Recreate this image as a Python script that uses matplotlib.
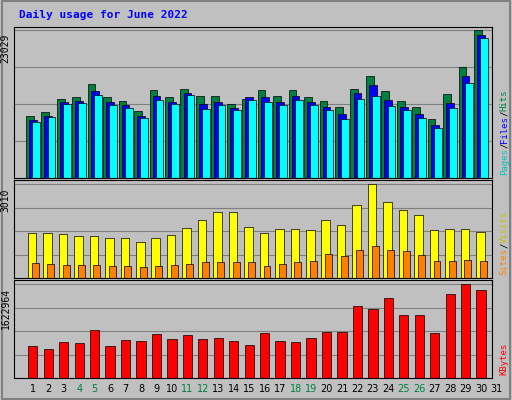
import matplotlib
matplotlib.use("Agg")
import matplotlib.pyplot as plt
from matplotlib.patches import Rectangle

days = list(range(1, 31))
day_labels = [str(d) for d in range(1, 32)]
weekend_days = [4, 5, 11, 12, 18, 19, 25, 26]
hits = [9620,10250,12300,12620,14670,12620,11990,10410,13720,12620,13880,12770,12770,11510,12300,
        13720,12770,13720,12620,11990,11040,13880,15930,13560,11990,11040,9150,13090,17350,23029]
files = [9000,9700,11800,12000,13500,11800,11300,9700,12700,11900,13300,11500,11800,10900,12600,
         12600,11800,12800,11800,11100,9900,13300,14400,12100,11000,10000,8200,11600,15800,22300]
pages = [8670,9460,11510,11670,12930,11350,10880,9300,12140,11510,12930,10720,11350,10570,12140,
         11830,11350,12140,11350,10570,9150,12300,12770,11200,10570,9300,7730,10880,14820,21760]
visits = [1440,1440,1406,1341,1341,1275,1275,1145,1275,1373,1602,1864,2126,2126,1635,
          1440,1570,1570,1537,1864,1700,2355,3010,2420,2191,2027,1537,1570,1570,1472]
sites = [490,458,425,425,425,392,392,360,392,425,458,523,523,523,523,
         392,458,523,556,785,719,883,1014,883,850,752,556,556,589,556]
kbytes = [547,494,617,600,829,547,653,635,759,670,741,670,688,635,565,
          776,635,617,688,794,794,1252,1200,1376,1094,1094,776,1447,1623,1517]
kbytes = [k * 1000 for k in kbytes]
kbytes_max = 1622964

BG = "#C0C0C0"
fig = plt.figure(figsize=(5.12, 4.0), dpi=100, facecolor=BG)
fig.patches.append(Rectangle((0.003, 0.003), 0.994, 0.994, transform=fig.transFigure,
                             fill=False, edgecolor="#808080", lw=1.5))
fig.text(0.037, 0.962, "Daily usage for June 2022", color="#0000FF", fontsize=8,
         fontweight="bold", family="DejaVu Sans Mono", va="center")

left, width = 0.027, 0.934
xl = (0.77 - 1, 30.71)

def setup(ax, ymax, maxval, label):
    ax.set_facecolor(BG)
    ax.set_xlim(*xl)
    ax.set_ylim(0, ymax)
    ax.set_xticks([]); ax.set_yticks([])
    for s in ax.spines.values():
        s.set_color("#000000"); s.set_linewidth(0.8)
    for f in (0.25, 0.5, 0.75, 1.0):
        ax.axhline(maxval * f, color="#808080", lw=0.8, zorder=0)
    fig.text(left - 0.006, ax.get_position().y1 - 0.01 - ((ymax - maxval) / ymax) * ax.get_position().height,
             label, rotation=90, ha="right", va="top", fontsize=7, family="DejaVu Sans Mono")

ax1 = fig.add_axes([left, 0.555, width, 0.3775])
ax2 = fig.add_axes([left, 0.305, width, 0.245])
ax3 = fig.add_axes([left, 0.055, width, 0.245])

setup(ax1, 23029 * 149 / 146, 23029, "23029")
setup(ax2, 3010 * 96 / 92, 3010, "3010")
setup(ax3, kbytes_max * 96 / 92, kbytes_max, "1622964")

ax1.bar([d - 0.2 for d in days], hits, 0.5, color="#008040", edgecolor="black", lw=0.5)
ax1.bar([d for d in days], files, 0.5, color="#0000FF", edgecolor="black", lw=0.5)
ax1.bar([d + 0.2 for d in days], pages, 0.5, color="#00FFFF", edgecolor="black", lw=0.5)
ax2.bar([d - 0.05 for d in days], visits, 0.55, color="#FFFF00", edgecolor="black", lw=0.5)
ax2.bar([d + 0.15 for d in days], sites, 0.45, color="#FF8000", edgecolor="black", lw=0.5)
ax3.bar(days, kbytes, 0.6, color="#FF0000", edgecolor="black", lw=0.5)

def side(ax, parts):
    pos = ax.get_position()
    y = pos.y0 + 0.008
    for txt, col in parts:
        fig.text(0.985, y, txt, rotation=90, color=col, fontsize=6.5,
                 family="DejaVu Sans Mono", ha="center", va="bottom")
        y += len(txt) * 0.0133

side(ax1, [("Pages", "#00C0C0"), ("/", "#000000"), ("Files", "#0000FF"), ("/", "#000000"), ("Hits", "#008040")])
side(ax2, [("Sites", "#FF8000"), ("/", "#000000"), ("Visits", "#C0C000")])
side(ax3, [("KBytes", "#FF0000")])

for i, lab in enumerate(day_labels):
    d = i + 1
    x = left + (d - xl[0]) / (xl[1] - xl[0]) * width
    col = "#008040" if d in weekend_days else "#000000"
    fig.text(x, 0.028, lab, color=col, fontsize=7, ha="center", va="center")

fig.savefig("out.png", dpi=100, facecolor=BG)
